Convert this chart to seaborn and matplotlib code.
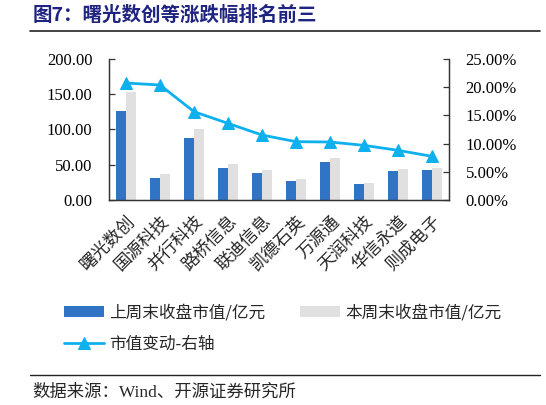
import matplotlib
matplotlib.use("Agg")
import matplotlib.pyplot as plt
import seaborn as sns
import pandas as pd
import numpy as np
from matplotlib.ticker import FuncFormatter, FixedLocator

sns.set_theme(style="white")
plt.rcParams['font.family'] = ['Liberation Serif', 'Noto Sans CJK SC', 'DejaVu Sans']
plt.rcParams['axes.unicode_minus'] = False

categories = ["曙光数创", "国源科技", "并行科技", "路桥信息", "联迪信息",
              "凯德石英", "万源通", "天润科技", "华信永道", "则成电子"]
last_week = [126.9, 30.7, 87.3, 44.8, 38.2, 26.9, 53.8, 22.6, 40.6, 42.5]
this_week = [153.3, 36.8, 101.4, 50.5, 42.9, 29.7, 59.4, 24.5, 44.3, 45.8]
change_pct = [20.74, 20.39, 15.66, 13.59, 11.52, 10.34, 10.28, 9.69, 8.81, 7.74]
series_names = ["上周末收盘市值/亿元", "本周末收盘市值/亿元"]
line_name = "市值变动-右轴"
title = "图7：曙光数创等涨跌幅排名前三"
source = "数据来源：Wind、开源证券研究所"

df = pd.DataFrame({
    "股票": categories * 2,
    "市值": last_week + this_week,
    "系列": [series_names[0]] * len(categories) + [series_names[1]] * len(categories),
})
line_df = pd.DataFrame({"pos": np.arange(len(categories)), "变动": change_pct})

blue = "#3173C4"
grey = "#E0E0E0"
cyan = "#0FB0EE"
navy = "#1F2480"

fig = plt.figure(figsize=(5.46, 4.05), dpi=100)
ax = fig.add_axes([0.1996, 0.5062, 0.6227, 0.3481])

sns.barplot(data=df, x="股票", y="市值", hue="系列", order=categories,
            hue_order=series_names, palette=[blue, grey], width=0.59,
            saturation=1, ax=ax, legend=True)
for p in ax.patches:
    p.set_edgecolor("none")

ax2 = ax.twinx()
sns.lineplot(data=line_df, x="pos", y="变动", color=cyan, linewidth=2.0,
             marker="^", markersize=8, markeredgecolor=cyan, ax=ax2,
             label=line_name, legend=False)

ax.set_ylim(0, 200)
ax2.set_ylim(0, 25)
ax.set_xlim(-0.5, len(categories) - 0.5)
ax.set_yticks(np.arange(0, 201, 50))
ax2.set_yticks(np.arange(0, 25.1, 5))
ax.yaxis.set_major_formatter(FuncFormatter(lambda v, p: f"{v:.2f}"))
ax2.yaxis.set_major_formatter(FuncFormatter(lambda v, p: f"{v:.2f}%"))
ax.set_xlabel("")
ax.set_ylabel("")
ax2.set_xlabel("")
ax2.set_ylabel("")

for a in (ax, ax2):
    for s in a.spines.values():
        s.set_color("#333333")
        s.set_linewidth(0.9)
    a.spines['top'].set_visible(False)
    a.grid(False)

ax.tick_params(axis='y', direction='in', length=4, width=0.9, colors='#333333',
               labelcolor='black', labelsize=12, pad=12)
ax2.tick_params(axis='y', direction='in', length=4, width=0.9, colors='#333333',
                labelcolor='black', labelsize=12, pad=12)
for lab in ax.get_yticklabels() + ax2.get_yticklabels():
    lab.set_fontfamily('Liberation Serif')

# x ticks: labels at centers, tick marks between categories
ax.set_xticks(np.arange(len(categories)))
ax.set_xticklabels(categories, rotation=45, ha='right', rotation_mode='anchor',
                   fontsize=12.5, fontfamily='Noto Sans CJK SC')
ax.tick_params(axis='x', which='major', length=0, pad=9)
ax.xaxis.set_minor_locator(FixedLocator(np.arange(0.5, len(categories) - 0.5, 1)))
ax.tick_params(axis='x', which='minor', direction='in', length=4, width=0.9,
               colors='#333333')

# legend
h1, l1 = ax.get_legend_handles_labels()
h2, l2 = ax2.get_legend_handles_labels()
ax.get_legend().remove()
handles = [h1[0], h2[0], h1[1]]
labels = [l1[0], l2[0], l1[1]]
fig.legend(handles, labels, loc='upper left', bbox_to_anchor=(0.117, 0.248),
           ncol=2, frameon=False, prop={'family': 'Noto Sans CJK SC', 'size': 12},
           handlelength=2.4, handleheight=0.6, handletextpad=0.3,
           columnspacing=2.1, labelspacing=0.85, borderaxespad=0, borderpad=0)

# title and rules
fig.text(0.06, 0.962, title, fontsize=14, fontweight='bold', color=navy,
         family=['Noto Sans CJK SC', 'DejaVu Sans'], va='center', ha='left')
fig.add_artist(plt.Line2D([0.055, 0.989], [0.923, 0.923], color='#222222', lw=1.2))
fig.add_artist(plt.Line2D([0.055, 0.989], [0.074, 0.074], color='#222222', lw=1.0))
fig.text(0.06, 0.030, source, fontsize=12.5,
         family=['Liberation Serif', 'Noto Sans CJK SC'], va='center', ha='left')

fig.savefig("out.png", dpi=100)
